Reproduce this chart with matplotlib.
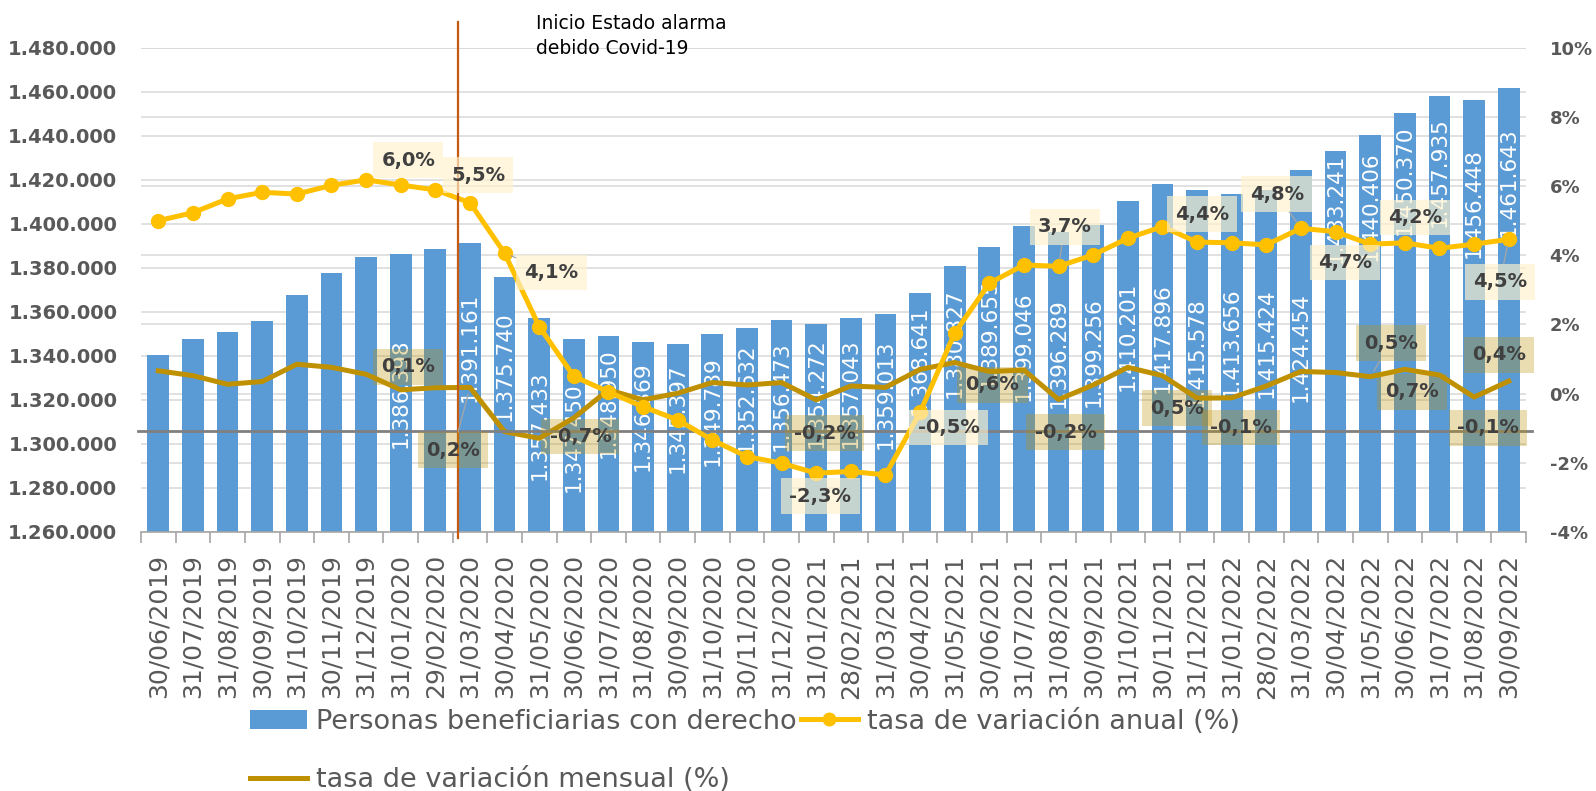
import matplotlib
matplotlib.use('Agg')
import matplotlib.pyplot as plt
from matplotlib.transforms import blended_transform_factory
from matplotlib.patches import Patch
from matplotlib.lines import Line2D

dates = ["30/06/2019", "31/07/2019", "31/08/2019", "30/09/2019", "31/10/2019", "30/11/2019",
         "31/12/2019", "31/01/2020", "29/02/2020", "31/03/2020", "30/04/2020", "31/05/2020",
         "30/06/2020", "31/07/2020", "31/08/2020", "30/09/2020", "31/10/2020", "30/11/2020",
         "31/12/2020", "31/01/2021", "28/02/2021", "31/03/2021", "30/04/2021", "31/05/2021",
         "30/06/2021", "31/07/2021", "31/08/2021", "30/09/2021", "31/10/2021", "30/11/2021",
         "31/12/2021", "31/01/2022", "28/02/2022", "31/03/2022", "30/04/2022", "31/05/2022",
         "30/06/2022", "31/07/2022", "31/08/2022", "30/09/2022"]

beneficiarios = [1340200, 1347800, 1350800, 1355700, 1367600, 1377500, 1384900, 1386398,
                 1388700, 1391161, 1375740, 1357433, 1347450, 1348950, 1346369, 1345397,
                 1349789, 1352632, 1356473, 1354272, 1357043, 1359013, 1368641, 1380827,
                 1389655, 1399046, 1396289, 1399256, 1410201, 1417896, 1415578, 1413656,
                 1415424, 1424454, 1433241, 1440406, 1450370, 1457935, 1456448, 1461643]

tasa_anual = [5.00, 5.23, 5.63, 5.82, 5.77, 6.02, 6.18, 6.03, 5.89, 5.52, 4.06, 1.94,
              0.50, 0.05, -0.38, -0.76, -1.34, -1.82, -2.01, -2.30, -2.25, -2.35, -0.54, 1.75,
              3.19, 3.72, 3.68, 4.01, 4.49, 4.83, 4.38, 4.36, 4.30, 4.78, 4.68, 4.32,
              4.36, 4.20, 4.32, 4.46]

tasa_mensual = [0.66, 0.52, 0.27, 0.35, 0.85, 0.76, 0.56, 0.11, 0.17, 0.18, -1.10, -1.29,
                -0.70, 0.11, -0.18, 0.01, 0.32, 0.25, 0.32, -0.18, 0.22, 0.18, 0.70, 0.90,
                0.64, 0.68, -0.17, 0.25, 0.76, 0.52, -0.13, -0.12, 0.22, 0.64, 0.61, 0.49,
                0.70, 0.54, -0.10, 0.36]

left_ticks = list(range(1260000, 1480001, 20000))
right_ticks = list(range(-4, 11, 2))

serie_barras = "Personas beneficiarias con derecho"
serie_anual = "tasa de variación anual (%)"
serie_mensual = "tasa de variación mensual (%)"
nota = "Inicio Estado alarma\ndebido Covid-19"

# --- label placement (positions only) ---
bar_label_pos = [None, None, None, None, None, None, None, 1323000, None, 1343900,
                 1335100, 1308600, 1302900, 1318600, 1312400, 1311800, 1314700, 1320900,
                 1321500, 1323000, 1323000, 1322500, 1338100, 1345700, 1350200, 1344200,
                 1341200, 1341900, 1348700, 1348000, 1341900, 1346400, 1345700, 1344200,
                 1407000, 1408200, 1419900, 1423700, 1409300, 1419100]

# (index of point, label x, label y, leader line)
anual_label_pos = [(7, 7.22, 6.75, False), (9, 9.24, 6.32, False), (10, 11.35, 3.51, True),
                   (19, 19.12, -2.96, False), (22, 22.82, -0.97, False), (26, 26.18, 4.82, True),
                   (30, 30.14, 5.19, False), (33, 32.30, 5.77, True), (34, 34.27, 3.80, False),
                   (37, 36.29, 5.10, False), (39, 38.75, 3.23, True)]
mensual_label_pos = [(7, 7.22, 0.77, False), (9, 8.52, -1.63, True), (12, 12.19, -1.23, False),
                     (19, 19.24, -1.14, False), (24, 24.09, 0.25, False), (26, 26.20, -1.11, False),
                     (29, 29.41, -0.42, False), (31, 31.26, -0.97, False), (35, 35.60, 1.46, True),
                     (36, 36.20, 0.05, False), (39, 38.72, 1.12, False), (38, 38.40, -0.99, False)]

BLUE = '#5B9BD5'
YELLOW = '#FFC000'
GOLD = '#BF9000'
GRAY_TXT = '#595959'
GRID = '#D9D9D9'

plt.rcParams['font.family'] = ['DejaVu Sans']

fig = plt.figure(figsize=(15.96, 7.91), dpi=100)
W, H = 1596, 791
ax = fig.add_axes([141 / W, 1 - 532 / H, 1385 / W, 484.3 / H])
ax2 = ax.twinx()

x = list(range(len(dates)))

ax.set_xlim(-0.5, len(dates) - 0.5)
ax.set_ylim(left_ticks[0], left_ticks[-1])
ax2.set_ylim(right_ticks[0], right_ticks[-1])

# gridlines (both axes, behind bars)
for v in left_ticks:
    ax.axhline(v, color=GRID, lw=1.1, zorder=0)
tr_r = blended_transform_factory(ax.transAxes, ax2.transData)
for p in right_ticks:
    ax.plot([0, 1], [p, p], transform=tr_r, color=GRID, lw=1.1, zorder=0)

ax.bar(x, beneficiarios, width=0.63, color=BLUE, zorder=2)

def fmt_num(v):
    return f"{v:,}".replace(',', '.')

def fmt_pct(v):
    return f"{v:.1f}".replace('.', ',') + '%'

for i, pos in enumerate(bar_label_pos):
    if pos is not None:
        ax.text(i, pos, fmt_num(beneficiarios[i]), rotation=90, ha='center', va='center',
                color='white', fontsize=15.5, zorder=3)

ax2.plot(x, tasa_mensual, color=GOLD, lw=3.6, solid_joinstyle='round', zorder=3)
ax2.plot(x, tasa_anual, color=YELLOW, lw=3.6, marker='o', markersize=10, zorder=4)

# horizontal gray axis line
tr_h = blended_transform_factory(ax2.transAxes, ax2.transData)
ax2.plot([-0.002, 1.004], [-1.07, -1.07], transform=tr_h, color='#808080', lw=2.0,
         zorder=3.5, clip_on=False)

# vertical line (Covid)
tr_v = blended_transform_factory(ax2.transData, ax2.transAxes)
ax2.plot([8.66, 8.66], [-0.012, 1.053], transform=tr_v, color='#C55A11', lw=1.6,
         zorder=6, clip_on=False)
fig.text(536 / W, 1 - 36 / H, nota, ha='left', va='center', fontsize=13.5,
         color='black', linespacing=1.35)

def add_labels(series, placements, face, alpha):
    for idx, lx, ly, leader in placements:
        ax2.annotate(fmt_pct(series[idx]), xy=(idx, series[idx]), xytext=(lx, ly),
                     textcoords='data', ha='center', va='center', fontsize=14,
                     fontweight='bold', color='#404040', zorder=7,
                     bbox=dict(boxstyle='square,pad=0.42', fc=face, ec='none',
                               alpha=alpha),
                     arrowprops=(dict(arrowstyle='-', color='#A6A6A6', lw=0.9,
                                      shrinkA=0, shrinkB=5) if leader else None))

add_labels(tasa_anual, anual_label_pos, '#FFF2CC', 0.66)
add_labels(tasa_mensual, mensual_label_pos, GOLD, 0.3)

# axes styling
for s in ['top', 'left', 'right']:
    ax.spines[s].set_visible(False)
    ax2.spines[s].set_visible(False)
ax2.spines['bottom'].set_visible(False)
ax.spines['bottom'].set_color('#A6A6A6')
ax.spines['bottom'].set_linewidth(1.2)

ax.set_yticks(left_ticks)
ax.set_yticklabels([fmt_num(v) for v in left_ticks], fontsize=14, fontweight='bold',
                   color=GRAY_TXT)
ax.tick_params(axis='y', length=0, pad=17)

ax2.set_yticks(right_ticks)
ax2.set_yticklabels([f"{p}%" for p in right_ticks], fontsize=13, fontweight='bold',
                    color=GRAY_TXT)
ax2.tick_params(axis='y', length=0, pad=17)

ax.set_xticks(x)
ax.set_xticklabels(dates, rotation=90, fontsize=18, color=GRAY_TXT, va='top')
ax.set_xticks([i - 0.5 for i in range(len(dates) + 1)], minor=True)
ax.tick_params(axis='x', which='major', length=0, pad=16)
ax.tick_params(axis='x', which='minor', length=8, color='#A6A6A6', width=1.2)

# legend
h_bar = Patch(facecolor=BLUE, edgecolor='none')
h_anual = Line2D([], [], color=YELLOW, lw=3.6, marker='o', markersize=9)
h_mens = Line2D([], [], color=GOLD, lw=3.6)
leg = fig.legend([h_bar, h_mens, h_anual], [serie_barras, serie_mensual, serie_anual],
                 ncol=2, loc='center left', bbox_to_anchor=(250 / W, 1 - 751 / H),
                 frameon=False, fontsize=19.5, labelcolor=GRAY_TXT, handlelength=2.1,
                 handletextpad=0.35, columnspacing=0.15, labelspacing=1.2,
                 borderpad=0, borderaxespad=0)

fig.savefig('out.png', dpi=100)
